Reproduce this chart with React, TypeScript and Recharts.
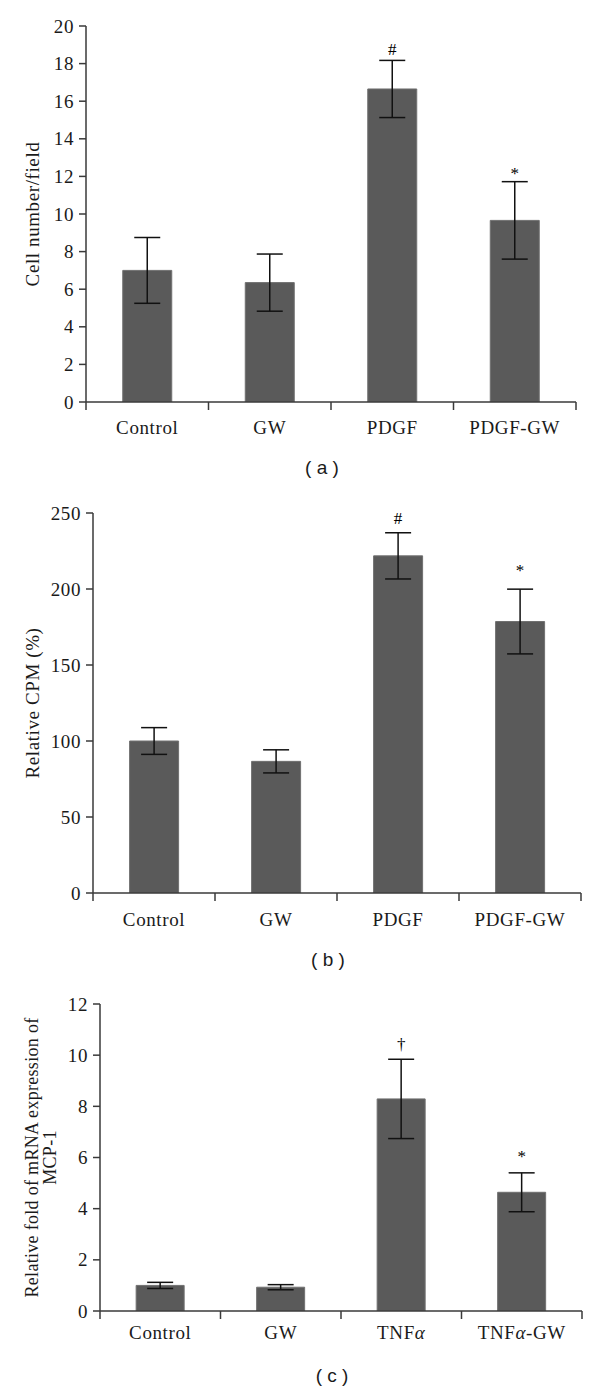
import React from "react";
import {
  ComposedChart,
  Bar,
  ErrorBar,
  Scatter,
  XAxis,
  YAxis,
  Label,
} from "recharts";

// ---- Panel (a) ----
const categoriesA = ["Control", "GW", "PDGF", "PDGF-GW"];
const cellNumber = [7.0, 6.35, 16.65, 9.66];
const cellNumberErr = [1.75, 1.52, 1.52, 2.06];
const marksA = ["", "", "#", "*"];
const markPosA = [null, null, 18.8, 12.2];
const yTicksA = [0, 2, 4, 6, 8, 10, 12, 14, 16, 18, 20];

// ---- Panel (b) ----
const categoriesB = ["Control", "GW", "PDGF", "PDGF-GW"];
const relativeCpm = [100, 86.6, 221.8, 178.6];
const relativeCpmErr = [8.8, 7.6, 15.2, 21.3];
const marksB = ["", "", "#", "*"];
const markPosB = [null, null, 246.7, 212.6];
const yTicksB = [0, 50, 100, 150, 200, 250];

// ---- Panel (c) ----
const categoriesC = ["Control", "GW", "TNFα", "TNFα-GW"];
const mcp1Fold = [1.0, 0.93, 8.29, 4.64];
const mcp1FoldErr = [0.12, 0.1, 1.55, 0.76];
const marksC = ["", "", "†", "*"];
const markPosC = [null, null, 10.45, 6.07];
const yTicksC = [0, 2, 4, 6, 8, 10, 12];

const SERIF = "'Liberation Serif', 'Times New Roman', serif";
const SANS = "'Liberation Sans', Arial, sans-serif";
const AXIS = "#3a3a3a";
const BAR = "#5a5a5a";
const TEXT = "#1a1a1a";
const FS = 19;
const LS = 0.6;

function buildRows(cats: string[], vals: number[], errs: number[], marks: string[], pos: (number | null)[]) {
  return cats.map((c, i) => ({ cat: c, value: vals[i], err: errs[i], sym: marks[i], markY: pos[i] }));
}

function renderCatLabel(text: string) {
  if (text.indexOf("α") < 0) return text;
  const parts = text.split("α");
  const out: any[] = [];
  parts.forEach((p, i) => {
    out.push(<tspan key={"p" + i}>{p}</tspan>);
    if (i < parts.length - 1)
      out.push(
        <tspan key={"a" + i} fontStyle="italic">
          α
        </tspan>
      );
  });
  return out;
}

function makeCatTick(labelDy: number, count: number) {
  return (props: any) => {
    const { x, y, payload, index } = props;
    const off = payload && payload.offset ? payload.offset : 0;
    return (
      <g>
        <line x1={x - off} x2={x - off} y1={y} y2={y + 8} stroke={AXIS} strokeWidth={1.5} />
        {index === count - 1 ? (
          <line x1={x + off} x2={x + off} y1={y} y2={y + 8} stroke={AXIS} strokeWidth={1.5} />
        ) : null}
        <text
          x={x}
          y={y + labelDy}
          textAnchor="middle"
          fontFamily={SERIF}
          fontSize={FS}
          letterSpacing={LS}
          fill={TEXT}
        >
          {renderCatLabel(payload.value)}
        </text>
      </g>
    );
  };
}

function YTick(props: any) {
  const { x, y, payload } = props;
  return (
    <text
      x={x}
      y={y}
      dy="0.35em"
      textAnchor="end"
      fontFamily={SERIF}
      fontSize={FS}
      letterSpacing={LS}
      fill={TEXT}
    >
      {payload.value}
    </text>
  );
}

function MarkShape(props: any) {
  const { cx, cy, payload } = props;
  if (!payload || !payload.sym || cy == null || isNaN(cy)) return <g />;
  return (
    <text x={cx} y={cy + 6} textAnchor="middle" fontFamily={SERIF} fontSize={17} fill="#000" stroke="none">
      {payload.sym}
    </text>
  );
}

type PanelProps = {
  top: number;
  height: number;
  margin: { top: number; right: number; left: number; bottom: number };
  yWidth: number;
  xHeight: number;
  rows: any[];
  yTicks: number[];
  yLabel: string[];
  yLabelSize: number;
  yLabelSpacing: number;
  caption: string;
  labelDy: number;
  captionDy: number;
};

function Panel(p: PanelProps) {
  const domainMax = p.yTicks[p.yTicks.length - 1];
  return (
    <div style={{ position: "absolute", left: 0, top: p.top, width: 600, height: p.height }}>
      <ComposedChart
        width={600}
        height={p.height}
        data={p.rows}
        margin={p.margin}
        barCategoryGap="30%"
      >
        <XAxis
          dataKey="cat"
          type="category"
          height={p.xHeight}
          axisLine={{ stroke: AXIS, strokeWidth: 1.5 }}
          tickLine={false}
          tickSize={0}
          tickMargin={0}
          interval={0}
          tick={makeCatTick(p.labelDy, p.rows.length)}
        >
          <Label
            content={(lp: any) => {
              const vb = lp.viewBox || {};
              return (
                <text
                  x={vb.x + vb.width / 2 - 9}
                  y={vb.y + p.captionDy}
                  textAnchor="middle"
                  fontFamily={SANS}
                  fontSize={19}
                  fill={TEXT}
                >
                  {p.caption}
                </text>
              );
            }}
          />
        </XAxis>
        <YAxis
          type="number"
          domain={[0, domainMax]}
          ticks={p.yTicks}
          interval={0}
          width={p.yWidth}
          axisLine={{ stroke: AXIS, strokeWidth: 1.5 }}
          tickLine={{ stroke: AXIS, strokeWidth: 1.5 }}
          tickSize={7}
          tickMargin={5}
          tick={<YTick />}
          allowDataOverflow
        >
          <Label
            content={(lp: any) => {
              const vb = lp.viewBox || {};
              const cy = vb.y + vb.height / 2;
              return (
                <g>
                  {p.yLabel.map((line, i) => {
                    const cx = 32 + i * 18;
                    return (
                      <text
                        key={i}
                        x={cx}
                        y={cy}
                        transform={`rotate(-90, ${cx}, ${cy})`}
                        textAnchor="middle"
                        dominantBaseline="central"
                        fontFamily={SERIF}
                        fontSize={p.yLabelSize}
                        letterSpacing={p.yLabelSpacing}
                        fill={TEXT}
                      >
                        {line}
                      </text>
                    );
                  })}
                </g>
              );
            }}
          />
        </YAxis>
        <Bar dataKey="value" fill={BAR} stroke="#707070" strokeWidth={1} isAnimationActive={false}>
          <ErrorBar dataKey="err" width={13} stroke="#111" strokeWidth={1.5} direction="y" />
        </Bar>
        <Scatter dataKey="markY" shape={MarkShape} fill="#000" isAnimationActive={false} legendType="none" />
      </ComposedChart>
    </div>
  );
}

export default function App() {
  const rowsA = buildRows(categoriesA, cellNumber, cellNumberErr, marksA, markPosA);
  const rowsB = buildRows(categoriesB, relativeCpm, relativeCpmErr, marksB, markPosB);
  const rowsC = buildRows(categoriesC, mcp1Fold, mcp1FoldErr, marksC, markPosC);
  return (
    <div style={{ position: "absolute", left: 0, top: 0, width: 600, height: 1390, background: "#fff" }}>
      <Panel
        top={0}
        height={490}
        margin={{ top: 26, right: 24, left: 0, bottom: 18 }}
        yWidth={86}
        xHeight={70}
        rows={rowsA}
        yTicks={yTicksA}
        yLabel={["Cell number/field"]}
        yLabelSize={FS}
        yLabelSpacing={LS}
        caption="( a )"
        labelDy={32}
        captionDy={72}
      />
      <Panel
        top={490}
        height={490}
        margin={{ top: 23, right: 19, left: 0, bottom: 17 }}
        yWidth={93}
        xHeight={70}
        rows={rowsB}
        yTicks={yTicksB}
        yLabel={["Relative CPM (%)"]}
        yLabelSize={FS}
        yLabelSpacing={LS}
        caption="( b )"
        labelDy={33}
        captionDy={73}
      />
      <Panel
        top={980}
        height={410}
        margin={{ top: 24, right: 18, left: 0, bottom: 9 }}
        yWidth={100}
        xHeight={70}
        rows={rowsC}
        yTicks={yTicksC}
        yLabel={["Relative fold of mRNA expression of", "MCP-1"]}
        yLabelSize={18}
        yLabelSpacing={0.3}
        caption="( c )"
        labelDy={28}
        captionDy={71}
      />
    </div>
  );
}
